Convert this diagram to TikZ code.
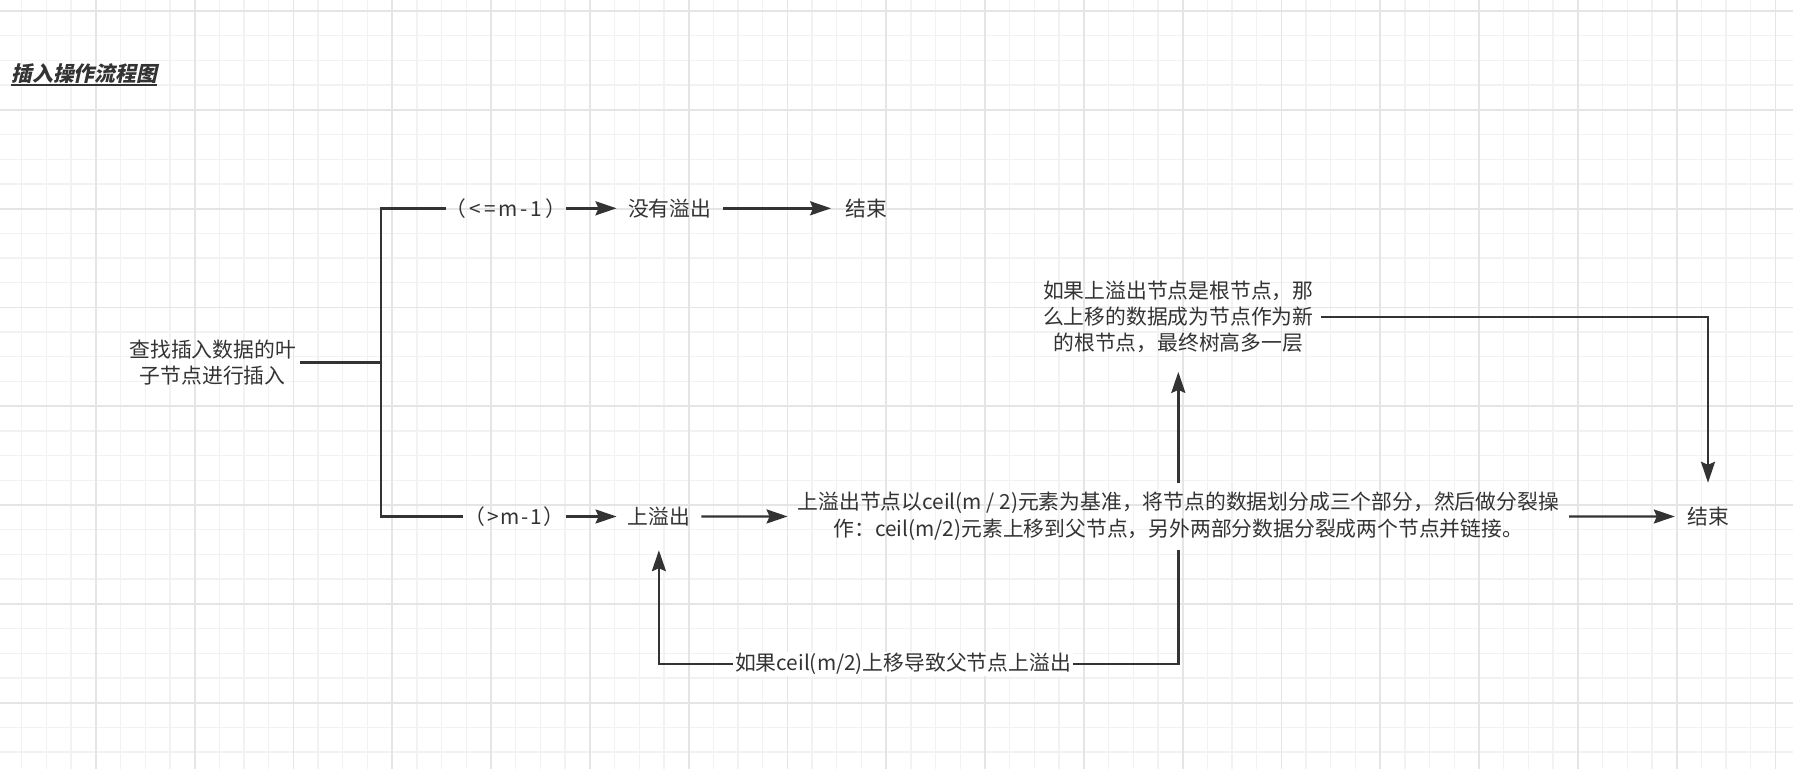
\documentclass[tikz,border=0pt]{standalone}
\usepackage{fontspec}
\usetikzlibrary{arrows.meta}
\newfontfamily\cjk{Noto Sans CJK SC}
\newfontfamily\cjktitle[FakeSlant=0.22]{Noto Sans CJK SC}
\definecolor{ink}{RGB}{51,51,51}
\definecolor{gridminor}{RGB}{242,242,242}
\definecolor{gridmajor}{RGB}{229,229,229}
\tikzset{
  txt/.style={font=\cjk\fontsize{20.8}{26.3}\selectfont, text=ink, align=center, inner sep=0pt},
  ln/.style={draw=ink, line width=2.4pt},
  arr/.style={ln, -{Stealth[length=21pt,width=14pt,inset=3pt]}},
  lbl/.style={txt, fill=white, inner xsep=2pt, inner ysep=1pt}
}

\begin{document}
\begin{tikzpicture}[x=1pt, y=-1pt]
    \useasboundingbox[fill=white] (0,0) rectangle (1793,769);
    \foreach \k in {1,...,72} \draw[gridminor, line width=1.3pt] ({-3+24.7*\k},0) -- ++(0,769);
    \foreach \k in {0,...,30} \draw[gridminor, line width=1.3pt] (0,{11+24.7*\k}) -- ++(1793,0);
    \foreach \k in {4,8,...,72} \draw[gridmajor, line width=1.8pt] ({-3+24.7*\k},0) -- ++(0,769);
    \foreach \k in {0,4,...,28} \draw[gridmajor, line width=1.8pt] (0,{11+24.7*\k}) -- ++(1793,0);

    \node[txt, font=\cjktitle\bfseries\fontsize{20.8}{24}\selectfont] (title) at (84.2, 73.4) {插入操作流程图};
    \draw[ink, line width=2pt] ([yshift=-3.3pt]title.base west) -- ([yshift=-3.3pt]title.base east);

    \node[txt, minimum width=174.6] (start) at (212.7, 362.5) {查找插入数据的叶\\子节点进行插入};
    \coordinate (fork) at (380.7, 362.5);

    \node[txt, minimum width=114] (le) at (506, 208.3) {\addfontfeature{LetterSpace=14}（<=m-1）};
    \node[txt, minimum width=106] (noov) at (669.7, 208.3) {没有溢出};
    \node[txt, minimum width=69.4] (end1) at (866, 208.3) {结束};

    \node[txt, minimum width=103] (gt) at (514.5, 516.5) {\addfontfeature{LetterSpace=8}（>m-1）};
    \node[txt, minimum width=84.3, minimum height=67] (ov) at (658.9, 516.5) {上溢出};
    \node[txt, minimum width=781, minimum height=66] (split) at (1178.3, 516.3) {上溢出节点以ceil(m / 2)元素为基准，将节点的数据划分成三个部分，然后做分裂操\\作：ceil(m/2)元素上移到父节点，另外两部分数据分裂成两个节点并链接。};
    \node[txt, minimum width=66, minimum height=67] (end2) at (1708, 516.5) {结束};

    \node[txt, minimum width=284.8, minimum height=109.4] (root) at (1178.3, 317) {如果上溢出节点是根节点，那\\么上移的数据成为节点作为新\\的根节点，最终树高多一层};

    \draw[ln] (start.east) -- (fork);
    \draw[ln] (fork) |- (le.west);
    \draw[ln] (fork) |- (gt.west);
    \draw[arr] (le) -- (noov);
    \draw[arr] (noov) -- (end1);
    \draw[arr] (gt) -- (ov);
    \draw[arr] (ov) -- (split);
    \draw[arr] (split) -- (end2);
    \draw[arr] (split) -- (root);
    \draw[arr] (root.east) -| (end2.north);
    \draw[arr] (split.south) -- ++(0,114.7) -| node[lbl, pos=0.265] (loopnote) {如果ceil(m/2)上移导致父节点上溢出} (ov.south);
\end{tikzpicture}
\end{document}
